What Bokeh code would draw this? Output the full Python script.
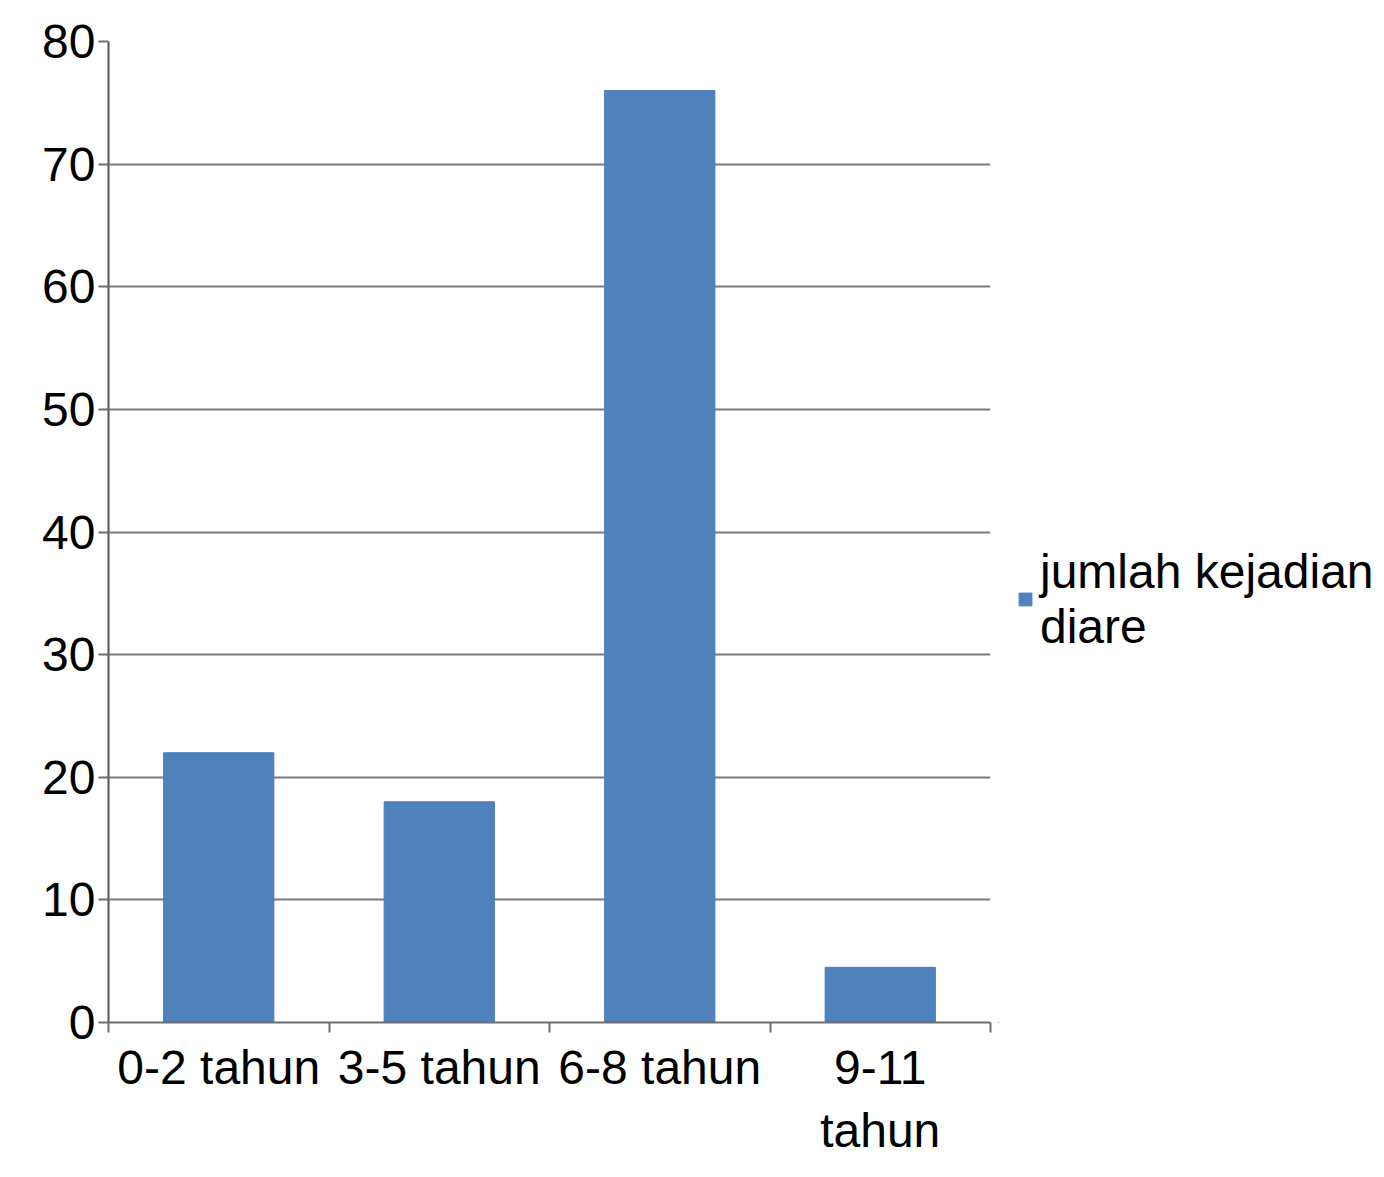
from bokeh.plotting import figure
from bokeh.layouts import row
from bokeh.models import Range1d, FixedTicker, Legend, LegendItem
from bokeh.embed import file_html
from bokeh.resources import INLINE

categories = ["0-2 tahun", "3-5 tahun", "6-8 tahun", "9-11\ntahun"]
values = [22, 18, 76, 4.5]
y_ticks = [0, 10, 20, 30, 40, 50, 60, 70, 80]
series_name = "jumlah kejadian\ndiare"

FONT = "Liberation Sans"
FS = "48px"
BAR_FILL = "#4F81BD"
BAR_LINE = "#4A7EBB"
x = [i + 0.5 for i in range(len(categories))]

p = figure(width=998, height=1160,
           x_range=Range1d(0, len(categories)), y_range=Range1d(0, 80),
           output_backend="svg", toolbar_location=None,
           min_border_left=108, min_border_top=41,
           min_border_bottom=129, min_border_right=8)
p.outline_line_color = None
p.background_fill_color = "white"
p.border_fill_color = "white"

r = p.vbar(x=x, top=values, width=0.5, fill_color=BAR_FILL, line_color=BAR_LINE, line_width=1)

# x axis
p.xaxis.ticker = FixedTicker(ticks=x, minor_ticks=list(range(len(categories) + 1)))
p.xaxis.major_label_overrides = {xi: c for xi, c in zip(x, categories)}
p.xaxis.major_tick_out = 0
p.xaxis.major_tick_in = 0
p.xaxis.minor_tick_out = 10
p.xaxis.minor_tick_in = 0
p.xaxis.minor_tick_line_color = "#6e6e6e"
p.xaxis.minor_tick_line_width = 2
p.xaxis.axis_line_color = "#6e6e6e"
p.xaxis.axis_line_width = 2
p.xaxis.major_label_text_font = FONT
p.xaxis.major_label_text_font_size = FS
p.xaxis.major_label_text_color = "black"
p.xaxis.major_label_standoff = 8

# y axis
p.yaxis.ticker = FixedTicker(ticks=y_ticks)
p.yaxis.major_tick_out = 10
p.yaxis.major_tick_in = 0
p.yaxis.minor_tick_out = 0
p.yaxis.minor_tick_in = 0
p.yaxis.major_tick_line_color = "#6e6e6e"
p.yaxis.major_tick_line_width = 2
p.yaxis.axis_line_color = "#555555"
p.yaxis.axis_line_width = 2
p.yaxis.major_label_text_font = FONT
p.yaxis.major_label_text_font_size = FS
p.yaxis.major_label_text_color = "black"
p.yaxis.major_label_standoff = 3

p.xgrid.visible = False
p.ygrid.ticker = FixedTicker(ticks=y_ticks)
p.ygrid.grid_line_color = "#7a7a7a"
p.ygrid.grid_line_width = 2

# legend panel (separate figure so the multi-line label is not clipped)
lg = figure(width=380, height=1160, x_range=Range1d(1000, 1001),
            y_range=Range1d(1000, 1001),
            output_backend="svg", toolbar_location=None,
            min_border=0, min_border_left=0, min_border_right=0,
            min_border_top=0, min_border_bottom=0)
lg.axis.visible = False
lg.grid.visible = False
lg.outline_line_color = None
lg.background_fill_color = "white"
lg.border_fill_color = "white"
# same series, kept outside this panel's visible range; only its legend swatch shows
lr = lg.vbar(x=x, top=values, width=0.5, fill_color=BAR_FILL, line_color=BAR_LINE)

legend = Legend(items=[LegendItem(label=series_name, renderers=[lr], index=0)],
                location=(19, 368))
legend.border_line_color = None
legend.background_fill_alpha = 0
legend.padding = 0
legend.margin = 0
legend.spacing = 0
legend.glyph_width = 16
legend.glyph_height = 16
legend.label_standoff = 7
legend.label_text_font = FONT
legend.label_text_font_size = FS
legend.label_text_color = "black"
legend.label_height = 16
lg.add_layout(legend, "center")

layout = row(p, lg)
open("out.html", "w").write(file_html(layout, INLINE))
